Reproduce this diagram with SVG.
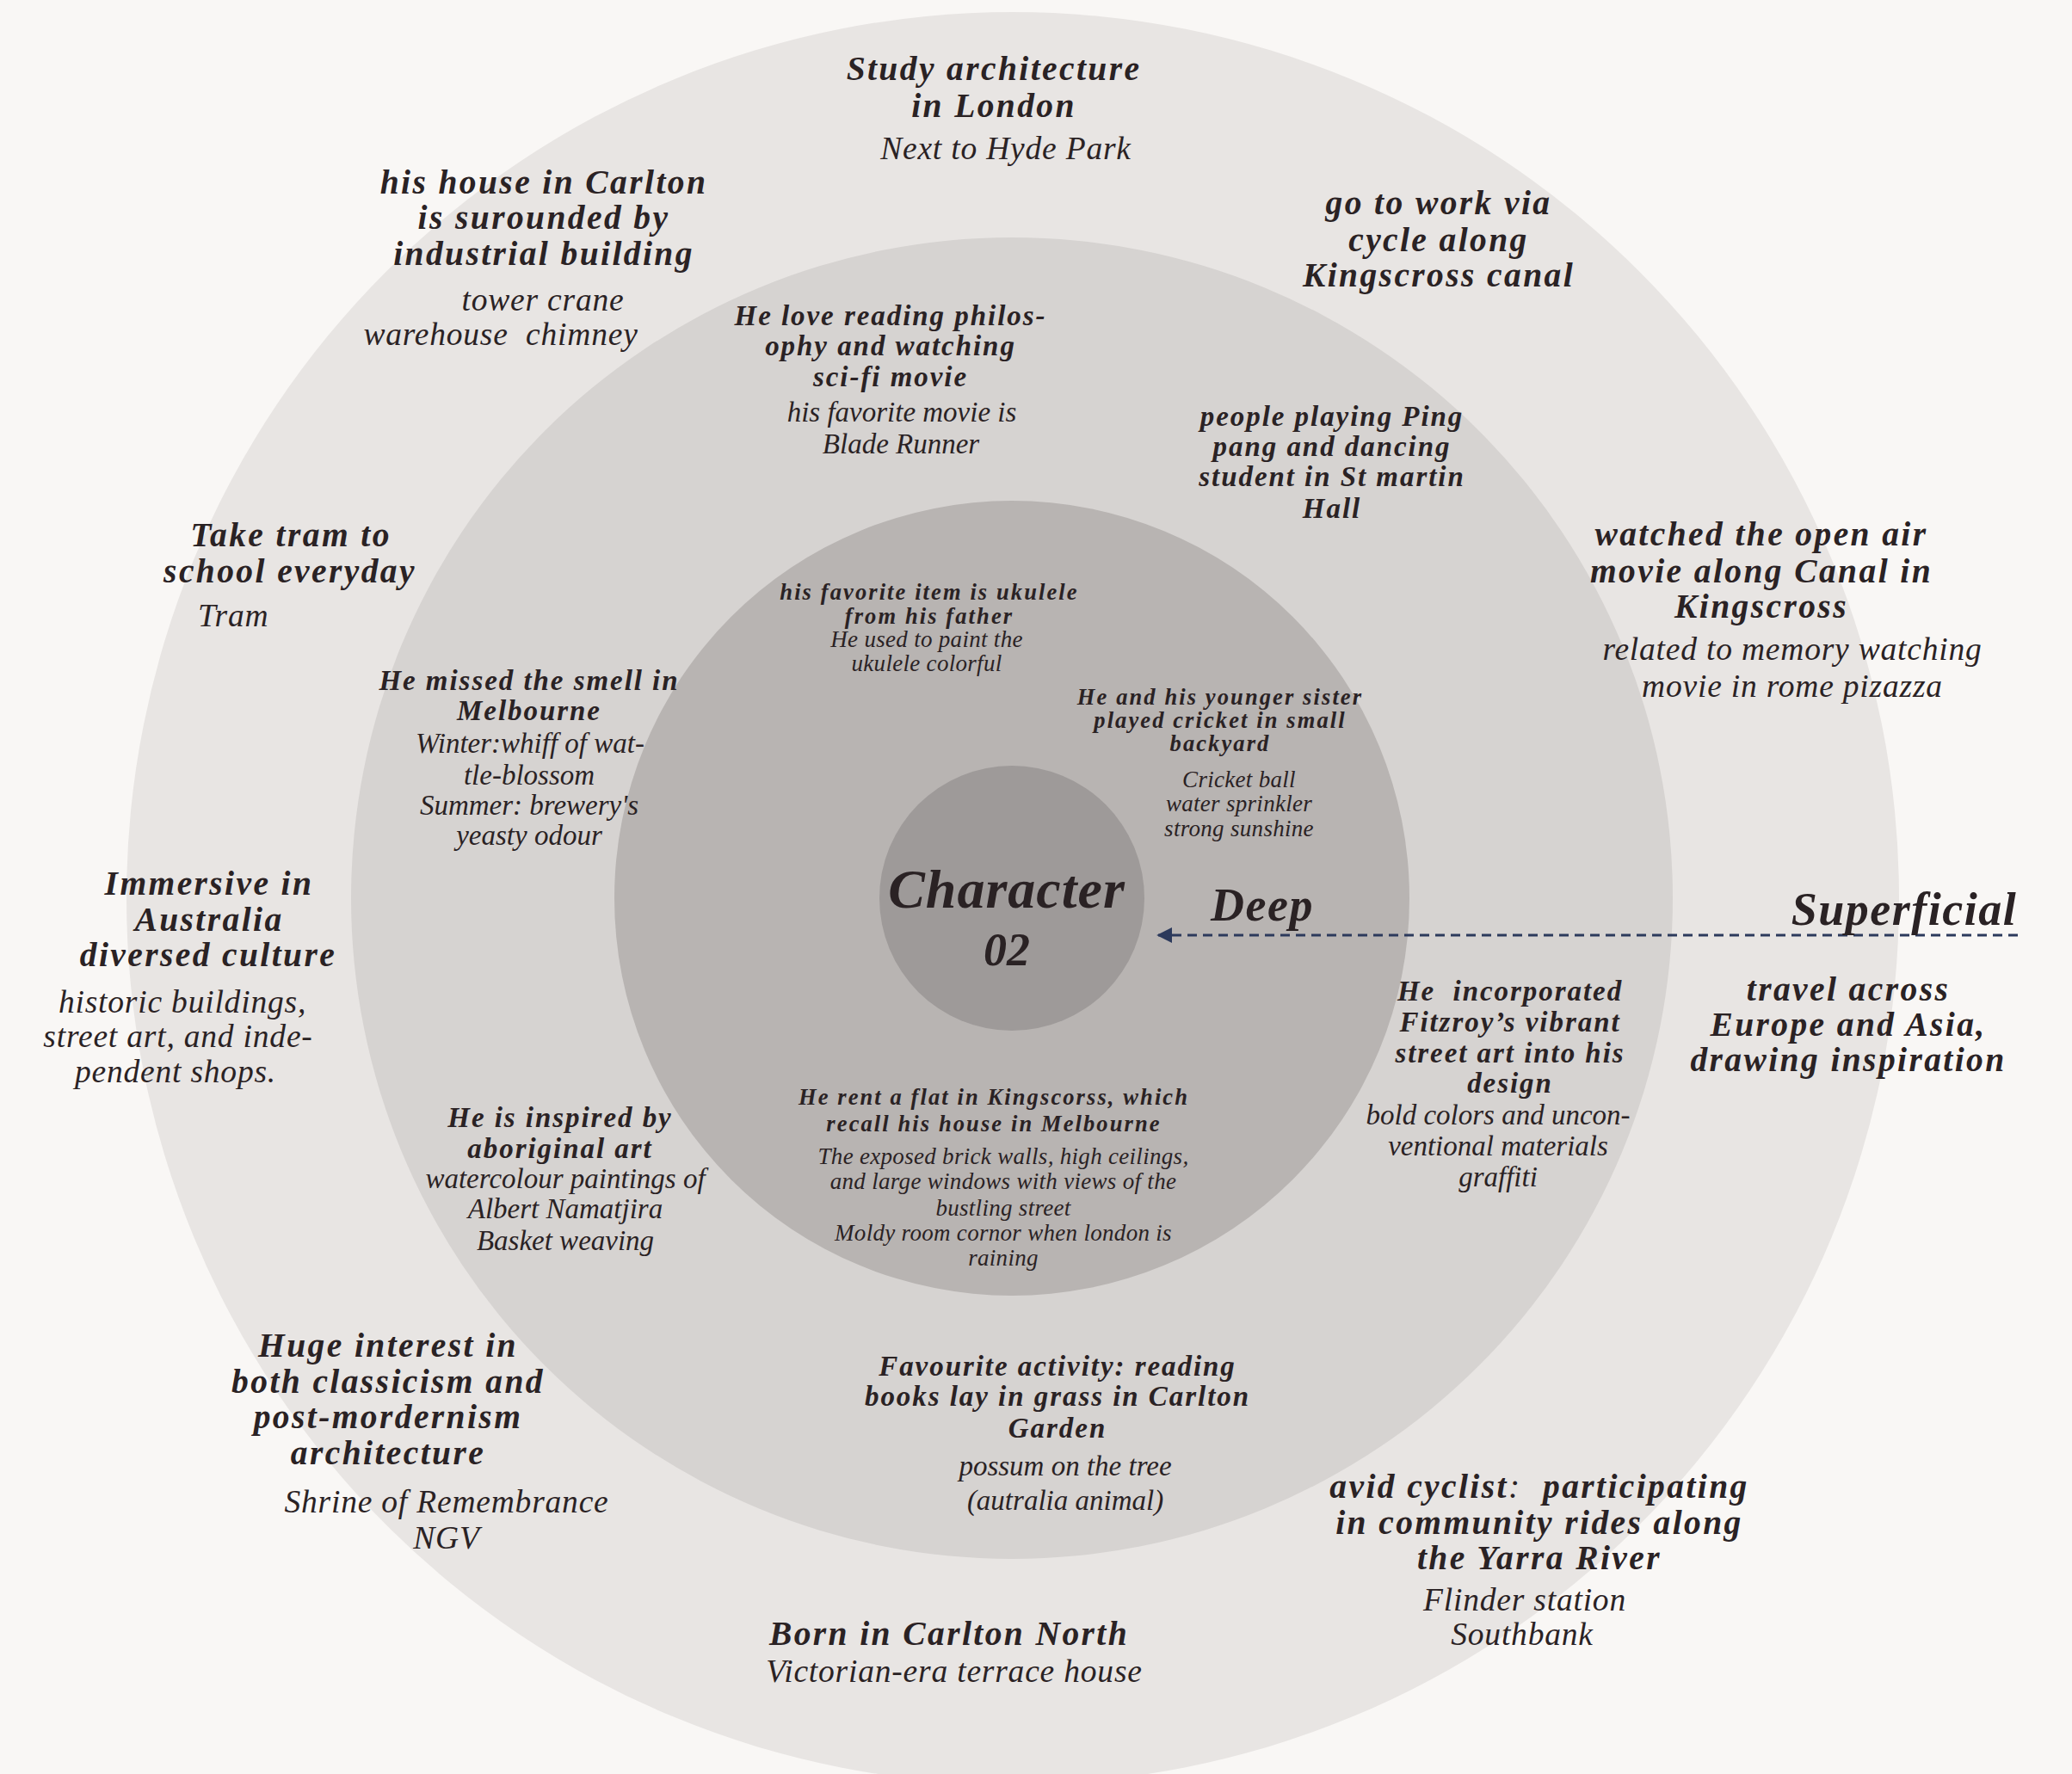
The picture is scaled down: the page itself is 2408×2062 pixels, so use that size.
<svg xmlns="http://www.w3.org/2000/svg" width="2408" height="2062" viewBox="0 0 2408 2062">
<style>
text{font-family:"Liberation Serif","Times New Roman",serif;font-style:italic;fill:#2a2224;text-anchor:middle}
.ob{font-size:39.5px;font-weight:bold;letter-spacing:2.4px}
.or{font-size:37.5px;letter-spacing:0.8px}
.mb{font-size:33px;font-weight:bold;letter-spacing:1.95px}
.mr{font-size:33px}
.ib{font-size:26.5px;font-weight:bold;letter-spacing:2.1px}
.ir{font-size:27px;letter-spacing:0.3px}
.big{font-size:54px;font-weight:bold;letter-spacing:1.5px}
.ch{font-size:64px;font-weight:bold;letter-spacing:1px}
.num{font-size:54px;font-weight:bold}
</style>
<defs>
<marker id="ah" viewBox="0 0 10 10" refX="9" refY="5" markerWidth="6" markerHeight="6" orient="auto-start-reverse">
<path d="M0,0 L10,5 L0,10 z" fill="#2c3a5c"/>
</marker>
</defs>
<rect width="2408" height="2062" fill="#f9f7f5"/>
<g id="rings">
<circle id="ring-outer" cx="1177" cy="1044" r="1030" fill="#e8e5e3"/>
<circle id="ring-middle" cx="1176" cy="1044" r="768" fill="#d6d3d1"/>
<circle id="ring-inner" cx="1176" cy="1044" r="462" fill="#b8b4b2"/>
<circle id="ring-core" cx="1176" cy="1044" r="154" fill="#9e9a99"/>
</g>
<g id="connectors">
<line x1="2345" y1="1087" x2="1346" y2="1087" stroke="#2c3a5c" stroke-width="3" stroke-dasharray="11,7" marker-end="url(#ah)"/>
</g>
<g id="center">
<text class="ch" x="1170" y="1055">Character</text>
<text class="num" x="1170" y="1122">02</text>
</g>
<g id="label-deep"><text class="big" x="1467" y="1070">Deep</text></g>
<g id="label-superficial"><text class="big" x="2213" y="1075">Superficial</text></g>

<g id="n-london">
<text class="ob" x="1155" y="93">Study architecture</text>
<text class="ob" x="1155" y="136">in London</text>
<text class="or" x="1169" y="185">Next to Hyde Park</text>
</g>
<g id="n-carlton-house">
<text class="ob" x="632" y="225">his house in Carlton</text>
<text class="ob" x="632" y="266">is surounded by</text>
<text class="ob" x="632" y="308">industrial building</text>
<text class="or" x="631" y="361">tower crane</text>
<text class="or" x="582" y="401" xml:space="preserve">warehouse  chimney</text>
</g>
<g id="n-cycle">
<text class="ob" x="1672" y="249">go to work via</text>
<text class="ob" x="1672" y="292">cycle along</text>
<text class="ob" x="1672" y="333">Kingscross canal</text>
</g>
<g id="n-tram">
<text class="ob" x="338" y="635">Take tram to</text>
<text class="ob" x="337" y="677">school everyday</text>
<text class="or" x="230" y="728" style="text-anchor:start">Tram</text>
</g>
<g id="n-openair">
<text class="ob" x="2047" y="634">watched the open air</text>
<text class="ob" x="2047" y="677">movie along Canal in</text>
<text class="ob" x="2047" y="718">Kingscross</text>
<text class="or" x="2083" y="767">related to memory watching</text>
<text class="or" x="2083" y="810">movie in rome pizazza</text>
</g>
<g id="n-immersive">
<text class="ob" x="243" y="1040">Immersive in</text>
<text class="ob" x="243" y="1082">Australia</text>
<text class="ob" x="242" y="1123">diversed culture</text>
<text class="or" x="212" y="1177">historic buildings,</text>
<text class="or" x="207" y="1217">street art, and inde-</text>
<text class="or" x="204" y="1258">pendent shops.</text>
</g>
<g id="n-travel">
<text class="ob" x="2148" y="1163">travel across</text>
<text class="ob" x="2148" y="1204">Europe and Asia,</text>
<text class="ob" x="2148" y="1245">drawing inspiration</text>
</g>
<g id="n-classicism">
<text class="ob" x="451" y="1577">Huge interest in</text>
<text class="ob" x="451" y="1619">both classicism and</text>
<text class="ob" x="451" y="1660">post-mordernism</text>
<text class="ob" x="451" y="1702">architecture</text>
<text class="or" x="519" y="1758">Shrine of Remembrance</text>
<text class="or" x="519" y="1800">NGV</text>
</g>
<g id="n-born">
<text class="ob" x="1103" y="1912">Born in Carlton North</text>
<text class="or" x="1109" y="1955">Victorian-era terrace house</text>
</g>
<g id="n-cyclist">
<text class="ob" x="1789" y="1741" xml:space="preserve">avid cyclist<tspan style="font-weight:normal">: </tspan> participating</text>
<text class="ob" x="1789" y="1783">in community rides along</text>
<text class="ob" x="1789" y="1824">the Yarra River</text>
<text class="or" x="1772" y="1872">Flinder station</text>
<text class="or" x="1769" y="1912">Southbank</text>
</g>

<g id="n-philosophy">
<text class="mb" x="1035" y="378">He love reading philos-</text>
<text class="mb" x="1035" y="413">ophy and watching</text>
<text class="mb" x="1035" y="449">sci-fi movie</text>
<text class="mr" x="1048" y="490">his favorite movie is</text>
<text class="mr" x="1047" y="527">Blade Runner</text>
</g>
<g id="n-pingpong">
<text class="mb" x="1548" y="495">people playing Ping</text>
<text class="mb" x="1548" y="530">pang and dancing</text>
<text class="mb" x="1548" y="565">student in St martin</text>
<text class="mb" x="1548" y="602">Hall</text>
</g>
<g id="n-smell">
<text class="mb" x="615" y="802">He missed the smell in</text>
<text class="mb" x="615" y="837">Melbourne</text>
<text class="mr" x="616" y="875">Winter:whiff of wat-</text>
<text class="mr" x="615" y="912">tle-blossom</text>
<text class="mr" x="615" y="947">Summer: brewery's</text>
<text class="mr" x="615" y="982">yeasty odour</text>
</g>
<g id="n-fitzroy">
<text class="mb" x="1755" y="1163" xml:space="preserve">He  incorporated</text>
<text class="mb" x="1755" y="1199">Fitzroy’s vibrant</text>
<text class="mb" x="1755" y="1235">street art into his</text>
<text class="mb" x="1755" y="1270">design</text>
<text class="mr" x="1741" y="1307">bold colors and uncon-</text>
<text class="mr" x="1741" y="1343">ventional materials</text>
<text class="mr" x="1741" y="1379">graffiti</text>
</g>
<g id="n-aboriginal">
<text class="mb" x="651" y="1310">He is inspired by</text>
<text class="mb" x="651" y="1346">aboriginal art</text>
<text class="mr" x="657" y="1381">watercolour paintings of</text>
<text class="mr" x="657" y="1416">Albert Namatjira</text>
<text class="mr" x="657" y="1453">Basket weaving</text>
</g>
<g id="n-garden">
<text class="mb" x="1229" y="1599">Favourite activity: reading</text>
<text class="mb" x="1229" y="1634">books lay in grass in Carlton</text>
<text class="mb" x="1229" y="1671">Garden</text>
<text class="mr" x="1238" y="1715">possum on the tree</text>
<text class="mr" x="1238" y="1755">(autralia animal)</text>
</g>

<g id="n-ukulele">
<text class="ib" x="1080" y="697">his favorite item is ukulele</text>
<text class="ib" x="1080" y="725">from his father</text>
<text class="ir" x="1077" y="752">He used to paint the</text>
<text class="ir" x="1077" y="780">ukulele colorful</text>
</g>
<g id="n-cricket">
<text class="ib" x="1418" y="819">He and his younger sister</text>
<text class="ib" x="1418" y="846">played cricket in small</text>
<text class="ib" x="1418" y="873">backyard</text>
<text class="ir" x="1440" y="915">Cricket ball</text>
<text class="ir" x="1440" y="943">water sprinkler</text>
<text class="ir" x="1440" y="972">strong sunshine</text>
</g>
<g id="n-flat">
<text class="ib" x="1155" y="1284">He rent a flat in Kingscorss, which</text>
<text class="ib" x="1155" y="1315">recall his house in Melbourne</text>
<text class="ir" x="1166" y="1353">The exposed brick walls, high ceilings,</text>
<text class="ir" x="1166" y="1382">and large windows with views of the</text>
<text class="ir" x="1166" y="1413">bustling street</text>
<text class="ir" x="1166" y="1442">Moldy room cornor when london is</text>
<text class="ir" x="1166" y="1471">raining</text>
</g>
</svg>
